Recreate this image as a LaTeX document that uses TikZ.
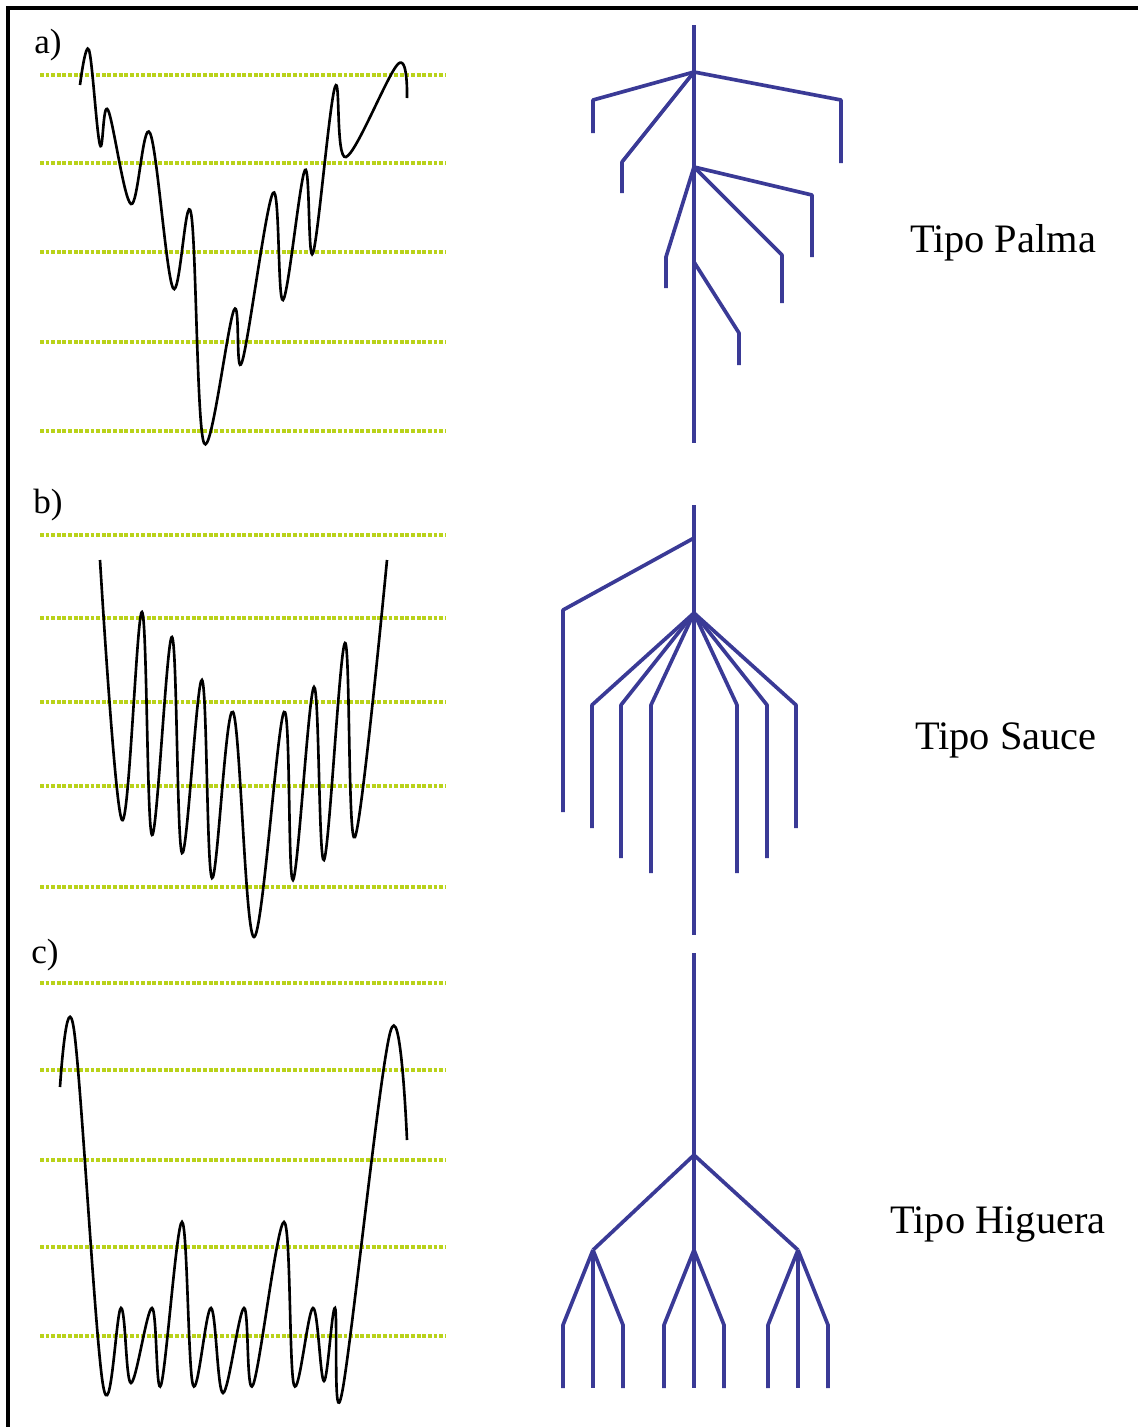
\documentclass[tikz,border=0pt]{standalone}
\usepackage{fontspec}
\setmainfont{Liberation Serif}
\usepackage{tikz}
\usetikzlibrary{positioning}
\definecolor{rootblue}{HTML}{3A3A96}
\definecolor{levelgreen}{HTML}{B9D21A}

\begin{document}
\begin{tikzpicture}[x=0.02cm,y=-0.02cm,
  lvl/.style={levelgreen,line width=2pt,dash pattern=on 2.2pt off 1pt},
  wave/.style={black,line width=1.5pt,smooth,tension=0.6},
  root/.style={rootblue,line width=2.1pt,line join=round},
  tag/.style={font=\fontsize{20}{24}\selectfont},
  typ/.style={font=\fontsize{23}{28}\selectfont}]
\useasboundingbox (0,0) rectangle (1138,1427);
% frame
\draw[line width=1.8pt] (8,1427) -- (8,8) -- (1138,8);
% Panel a
\node[tag] (la) at (48,45) {a)};
\foreach \y in {75,163,252,342,431} \draw[lvl] (40,\y) -- (445,\y);
\draw[wave] plot coordinates {(80,85) (89,50) (100,145) (108,110) (131,204) (150,133)
  (173,288) (191,213) (204,443) (234,310) (242,362) (273,193) (283,300) (305,170)
  (313,253) (335,87) (346,157) (398,64) (407,98)};
\coordinate (atop) at (694,25);  \coordinate (abot) at (694,443);
\coordinate (a1) at (694,72);    \coordinate (a2) at (694,167);  \coordinate (a3) at (694,262);
\draw[root] (atop) -- (abot);
\coordinate (a1l) at (593,100);  \coordinate (a1lt) at (593,133);
\coordinate (a1m) at (622,162);  \coordinate (a1mt) at (622,193);
\coordinate (a1r) at (841,100);  \coordinate (a1rt) at (841,163);
\draw[root] (a1) -- (a1l) -- (a1lt); \draw[root] (a1) -- (a1m) -- (a1mt); \draw[root] (a1) -- (a1r) -- (a1rt);
\coordinate (a2l) at (666,257);  \coordinate (a2lt) at (666,288);
\coordinate (a2r) at (812,195);  \coordinate (a2rt) at (812,257);
\coordinate (a2m) at (782,255);  \coordinate (a2mt) at (782,303);
\draw[root] (a2) -- (a2l) -- (a2lt); \draw[root] (a2) -- (a2r) -- (a2rt); \draw[root] (a2) -- (a2m) -- (a2mt);
\coordinate (a3r) at (739,333);  \coordinate (a3rt) at (739,365);
\draw[root] (a3) -- (a3r) -- (a3rt);
\node[typ] (palma) at (1003,243) {Tipo Palma};
% Panel b
\node[tag] (lb) at (48,505) {b)};
\foreach \y in {535,618,702,786,887} \draw[lvl] (40,\y) -- (445,\y);
\draw[wave] plot coordinates {(100,560) (122,820) (142,612) (152,835) (172,637) (182,853)
  (202,680) (212,878) (233,712) (254,937) (284,712) (293,880) (314,687) (324,860)
  (345,643) (355,837) (387,560)};
\coordinate (btop) at (694,505); \coordinate (bbot) at (694,935);
\coordinate (b1) at (694,538);   \coordinate (b2) at (694,613);
\draw[root] (btop) -- (bbot);
\coordinate (b1l) at (563,610);  \coordinate (b1lt) at (563,812);
\draw[root] (b1) -- (b1l) -- (b1lt);
\foreach \x/\t [count=\i] in {592/828,621/858,651/873,737/873,767/858,796/828}{
  \coordinate (b2k\i) at (\x,705); \coordinate (b2t\i) at (\x,\t);
  \draw[root] (b2) -- (b2k\i) -- (b2t\i);}
\node[typ] (sauce) at (1006,740) {Tipo Sauce};
% Panel c
\node[tag] (lc) at (45,955) {c)};
\foreach \y in {983,1070,1160,1247,1336} \draw[lvl] (40,\y) -- (445,\y);
\draw[wave] plot coordinates {(60,1087) (74,1030) (103,1385) (121,1308) (131,1383)
  (152,1308) (161,1385) (182,1222) (193,1385) (211,1308) (223,1393) (244,1308)
  (253,1385) (284,1222) (294,1385) (313,1308) (324,1381) (335,1308) (342,1393)
  (390,1033) (407,1140)};
\coordinate (ctop) at (694,953); \coordinate (cbot) at (694,1388);
\coordinate (c0) at (694,1155);
\draw[root] (ctop) -- (cbot);
\foreach \s [count=\i] in {593,694,798}{
  \coordinate (c\i) at (\s,1250);
  \coordinate (c\i l) at (\s-30,1325); \coordinate (c\i lt) at (\s-30,1388);
  \coordinate (c\i r) at (\s+30,1325); \coordinate (c\i rt) at (\s+30,1388);
  \coordinate (c\i m) at (\s,1388);
  \draw[root] (c0) -- (c\i);
  \draw[root] (c\i) -- (c\i m);
  \draw[root] (c\i) -- (c\i l) -- (c\i lt);
  \draw[root] (c\i) -- (c\i r) -- (c\i rt);}
\node[typ] (higuera) at (998,1224) {Tipo Higuera};
\end{tikzpicture}
\end{document}
